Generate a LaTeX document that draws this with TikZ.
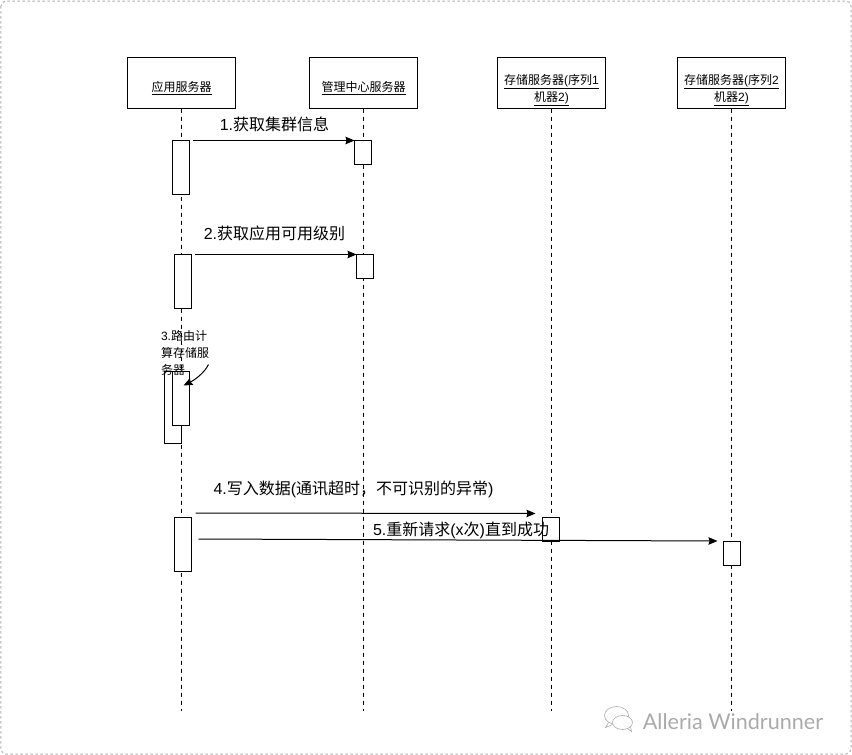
\documentclass[tikz,border=0pt]{standalone}
\usepackage{fontspec}
\setmainfont{Liberation Sans}
\newfontfamily\cjk{Noto Sans CJK SC}
\newfontfamily\markfont{Lato}
\usetikzlibrary{arrows.meta, positioning}
\definecolor{framegray}{RGB}{175, 175, 175}
\definecolor{markgray}{RGB}{170, 170, 170}
\tikzset{
  srvbox/.style={draw, line width=1pt, fill=white, minimum width=108pt, minimum height=51pt, inner sep=0pt, outer sep=0pt, align=center, font=\fontsize{12}{17}\selectfont, execute at begin node=\rule{0pt}{20pt}},
  actbox/.style={draw, line width=1pt, fill=white, minimum width=17pt, inner sep=0pt, outer sep=0pt, anchor=north west},
  lifeline/.style={line width=1pt, dash pattern=on 4pt off 4pt},
  msgarrow/.style={-{Stealth[length=9pt, width=7.5pt, inset=1pt]}, line width=1pt},
  msglabel/.style={inner sep=0pt, font=\fontsize{16}{18}\selectfont},
}
\begin{document}
\begin{tikzpicture}[x=1pt, y=-1pt, node distance=74pt]
  \useasboundingbox (-0.5,-0.5) rectangle (851.5,754.5);
  \draw[framegray, line width=1pt, rounded corners=5pt, dash pattern=on 2.5pt off 2.5pt] (0.5,0.5) rectangle (850.5,753.5);
  \node[srvbox] (appsrv) at (181,82.5) {\underline{\cjk 应用服务器}};
  \node[srvbox, right=74pt of appsrv] (mgrsrv) {\underline{\cjk 管理中心服务器}};
  \node[srvbox, right=80pt of mgrsrv] (storeone) {\rule{0pt}{24pt}\underline{{\cjk 存储服务器}({\cjk 序列}1}\\\underline{{\cjk 机器}2)}};
  \node[srvbox, right=72pt of storeone] (storetwo) {\rule{0pt}{24pt}\underline{{\cjk 存储服务器}({\cjk 序列}2}\\\underline{{\cjk 机器}2)}};
  \coordinate (append) at (181,710);
  \coordinate (mgrend) at (363,710);
  \coordinate (oneend) at (551,710);
  \coordinate (twoend) at (731,710);
  \draw[lifeline] (appsrv.south) -- (append);
  \draw[lifeline] (mgrsrv.south) -- (mgrend);
  \draw[lifeline] (storeone.south) -- (oneend);
  \draw[lifeline] (storetwo.south) -- (twoend);
  \node[actbox, minimum height=54pt] (appa) at (172,140) {};
  \node[actbox, minimum height=24pt] (mgra) at (354,140) {};
  \node[actbox, minimum height=54pt] (appb) at (174,254) {};
  \node[actbox, minimum height=24pt] (mgrb) at (356,254) {};
  \coordinate (loopcorner) at (164,443);
  \draw[line width=1pt] (181,425) |- (loopcorner) |- (181,371);
  \node[actbox, minimum height=54pt] (appc) at (172,371) {};
  \node[actbox, minimum height=54pt] (appd) at (174,517) {};
  \node[actbox, minimum height=24pt] (onea) at (542,517) {};
  \node[actbox, minimum height=24pt] (twoa) at (723,541) {};
  \draw[msgarrow] ([xshift=3pt]appa.north east) -- (mgra.north west);
  \draw[msgarrow] ([xshift=3pt]appb.north east) -- (mgrb.north west);
  \coordinate (fourstart) at (195,512.5);
  \coordinate (fourend) at (535,513);
  \coordinate (fivestart) at (198,538.5);
  \coordinate (fivestop) at (717,540.5);
  \draw[msgarrow] (fourstart) -- (fourend);
  \draw[msgarrow] (fivestart) -- (fivestop);
  \coordinate (selfstart) at (208,364);
  \draw[msgarrow] (selfstart) .. controls (204,372) and (195,379) .. ([xshift=-6pt,yshift=-14pt]appc.north east);
  \node[msglabel] (msgone) at (274,124) {1.{\cjk 获取集群信息}};
  \node[msglabel] (msgtwo) at (274,233) {2.{\cjk 获取应用可用级别}};
  \node[msglabel] (msgfour) at (353,489) {4.{\cjk 写入数据}({\cjk 通讯超时，不可识别的异常})};
  \node[msglabel] (msgfive) at (460.5,529.5) {5.{\cjk 重新请求}(x{\cjk 次}){\cjk 直到成功}};
  \node[inner sep=0pt, align=left, font=\fontsize{12}{17}\selectfont] (msgthree) at (184.5,352.5) {3.{\cjk 路由计}\\{\cjk 算存储服}\\{\cjk 务器}};
  \node[inner sep=0pt, text=markgray, font=\markfont\fontsize{21.6}{24}\selectfont] (markname) at (732.5,721) {Alleria Windrunner};
  \draw[markgray, line width=0.6pt] (616,715) ellipse (12pt and 9pt);
  \draw[markgray, line width=0.6pt, fill=white] (622,722) ellipse (10pt and 7pt);
  \draw[markgray, line width=0.6pt] (608,722) -- (605,727) -- (612,724);
  \draw[markgray, line width=0.6pt] (627,728) -- (631,731) -- (630,726);
\end{tikzpicture}
\end{document}
